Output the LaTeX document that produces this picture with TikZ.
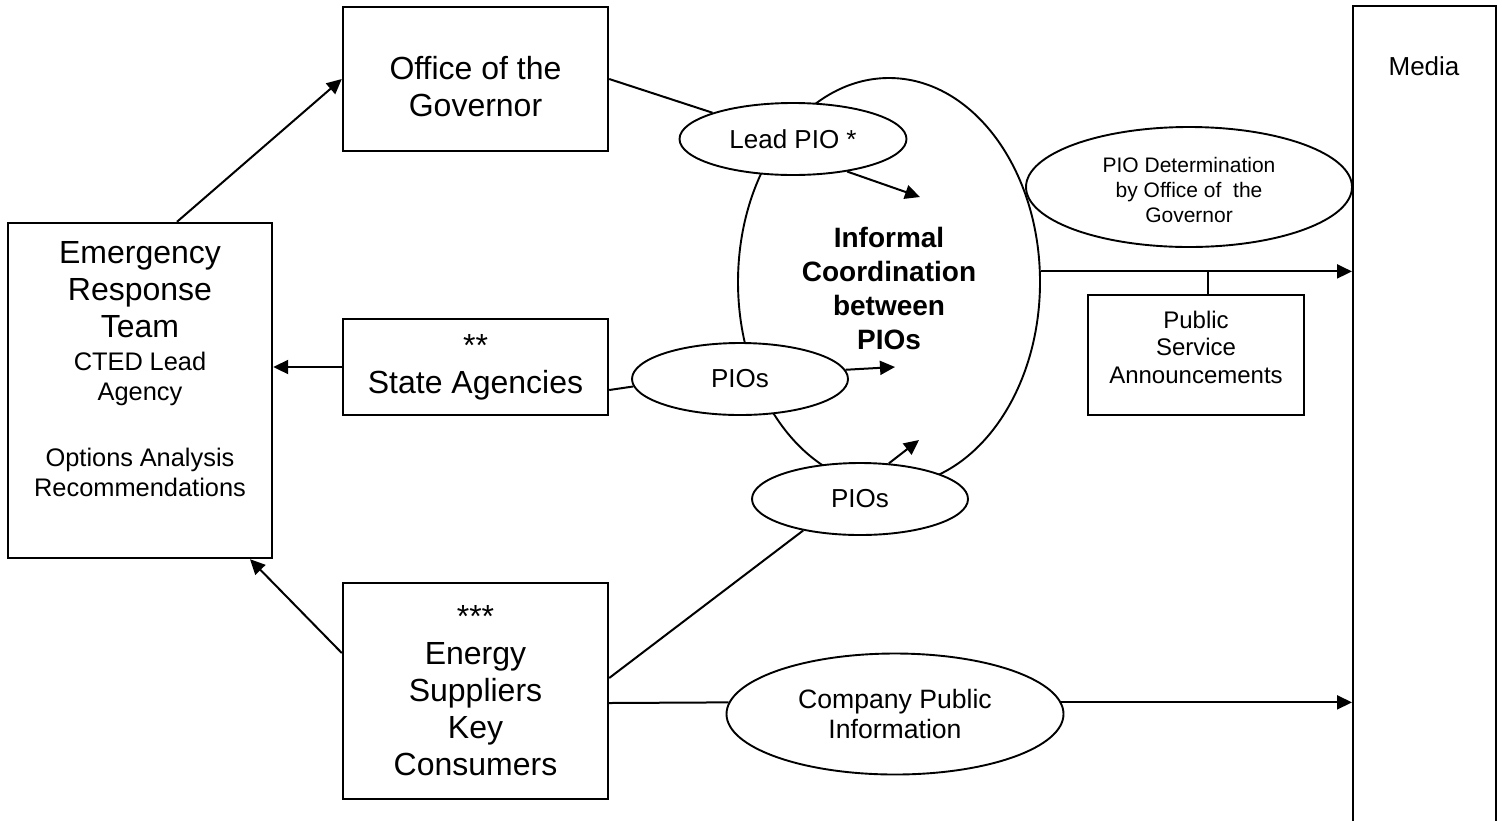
\documentclass[tikz,border=0pt]{standalone}
\usepackage{fontspec}
\setmainfont{Liberation Sans}
\usetikzlibrary{arrows.meta,shapes.geometric}
\newcommand\bigtxt{\fontsize{16}{18.5}\selectfont}
\newcommand\smalltxt{\fontsize{12.7}{15}\selectfont}
\tikzset{
  orgbox/.style={rectangle, draw=black, line width=1.2pt, fill=white,
                 inner sep=0pt, align=center, font=\bigtxt},
  piobubble/.style={ellipse, draw=black, line width=0.95pt, fill=white,
                    inner sep=0pt, align=center, font=\fontsize{13}{15}\selectfont},
  arrow/.style={-{Triangle[length=7.5pt, width=7pt]}, line width=1pt},
  link/.style={line width=1pt},
}
\begin{document}
\begin{tikzpicture}[x=0.5pt, y=-0.5pt]
  \useasboundingbox (0,0) rectangle (1502,820);
  \clip (0,0) rectangle (1502,820);

  % Media column on the right, runs off the page
  \node[orgbox, anchor=north west, minimum width=71.5pt, minimum height=420pt] (media) at (1352,5) {};
  \node[font=\fontsize{13}{15}\selectfont] (medialbl) at (1424,66) {Media};

  % Left column: response team
  \node[orgbox, minimum width=132pt, minimum height=167.5pt] (erteam) at (140,390.5) {};
  \node[anchor=north, inner sep=0pt, text width=130pt, align=center, yshift=-9.5pt] (erteamtext) at (erteam.north)
    {{\bigtxt Emergency\par Response\par Team\par}\vspace{1.5pt}{\smalltxt CTED Lead\par Agency\par\vspace{18pt}Options Analysis\par Recommendations\par}};

  % Middle column: sources
  \node[orgbox, minimum width=132.5pt, minimum height=72pt] (office) at (475.5,79) {\rule{0pt}{18.7pt}Office of the\\Governor};
  \node[orgbox, minimum width=132.5pt, minimum height=48pt] (state) at (475.5,367) {**\\State Agencies};
  \node[orgbox, minimum width=132.5pt, minimum height=108pt] (energy) at (475.5,691) {***\\Energy\\Suppliers\\Key\\Consumers};

  % Coordination bubble and the PIO ellipses on top of it
  \node[piobubble, minimum width=151pt, minimum height=204pt, font=\bfseries\fontsize{14}{17}\selectfont] (coord) at (889,282) {\rule{0pt}{16.2pt}Informal\\Coordination\\between\\PIOs};
  \node[piobubble, minimum width=113.5pt, minimum height=36pt] (leadpio) at (793,139) {Lead PIO *};
  \node[piobubble, minimum width=108pt, minimum height=36pt] (statepio) at (740,379) {PIOs};
  \node[piobubble, minimum width=108pt, minimum height=36pt] (supplierpio) at (860,499) {PIOs};
  \node[piobubble, minimum width=163pt, minimum height=60pt, font=\fontsize{10.5}{12.5}\selectfont] (piodet) at (1189,187) {\rule{0pt}{10.7pt}PIO Determination\\by Office of~ the\\Governor};
  \node[piobubble, minimum width=168.5pt, minimum height=60.5pt, font=\fontsize{13.3}{15}\selectfont] (company) at (895,714) {Company Public\\Information};
  \node[orgbox, minimum width=108pt, minimum height=60pt, font=\fontsize{12}{13.75}\selectfont] (psa) at (1196,355) {Public\\Service\\Announcements\rule[-8pt]{0pt}{0pt}};

  % Into the response team
  \draw[arrow] ([xshift=18.5pt]erteam.north) -- (office.west);
  \draw[arrow] (state.west) -- (state.west -| erteam.east);
  \draw[arrow] ([yshift=19pt]energy.west) -- ([xshift=55pt]erteam.south);

  % Sources to their PIOs
  \draw[link] (office.east) -- (leadpio);
  \draw[link] ([yshift=-11.5pt]state.east) -- (statepio.184);
  \draw[link] ([yshift=6.5pt]energy.east) -- (supplierpio.209);
  \draw[link] ([yshift=-6pt]energy.east) -- (company.176);

  % PIOs feeding the coordination
  \coordinate (leadend) at (920,197);
  \coordinate (stateend) at (895,367);
  \coordinate (supplierend) at (919,440);
  \draw[arrow] (leadpio.-31) -- (leadend);
  \draw[arrow] (statepio.5) -- (stateend);
  \draw[arrow] (supplierpio.51) -- (supplierend);

  % Out to the media
  \draw[arrow] (coord.4) -- (coord.4 -| media.west);
  \coordinate (psajoin) at (1208,271);
  \draw[link] (psajoin) -- (psajoin |- psa.north);
  \draw[arrow] (company.4) -- (company.4 -| media.west);
\end{tikzpicture}
\end{document}
